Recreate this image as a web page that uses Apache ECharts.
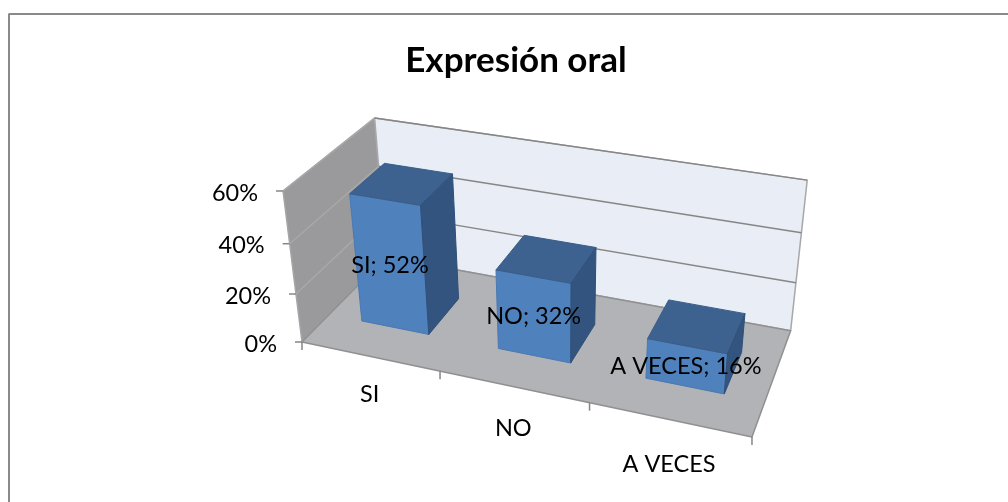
<!DOCTYPE html>
<html>
<head>
<meta charset="utf-8">
<style>html,body{margin:0;padding:0;background:#fff}#c{width:1008px;height:502px}</style>
<script src="https://cdn.jsdelivr.net/npm/echarts@6/dist/echarts.min.js"></script>
</head>
<body>
<div id="c"></div>
<script>
const titleText = 'Expresión oral';
const categories = ['SI', 'NO', 'A VECES'];
const values = [0.52, 0.32, 0.16];
const tickValues = [0, 0.2, 0.4, 0.6];
const tickLabels = ['0%', '20%', '40%', '60%'];
const percentText = v => Math.round(v * 100) + '%';

/* Oblique 3D view: homogeneous image of the origin and of the three unit axes */
const O = [302, 342, 1];
const Ux = [363.5, 44.7, -0.115];
const Uy = [-38.2, -164, -0.068];
const Uz = [131.4, -53.4, 0.1229];
const project = (u, v, w) => {
  const p = [0, 1, 2].map(k => O[k] + u * Ux[k] + v * Uy[k] + w * Uz[k]);
  return [p[0] / p[2], p[1] / p[2]];
};
const FONT = 'Lato, Carlito, sans-serif';
const LINE = '#868686';
const BAR_FRONT_Z = 0.3, BAR_BACK_Z = 0.7;

const unit = (params, api, cat, val) => {
  const cs = params.coordSys;
  const p = api.coord([cat, val]);
  return [(p[0] - cs.x) / cs.width, (cs.y + cs.height - p[1]) / cs.height];
};
const poly = (points, fill, stroke, lw) => ({
  type: 'polygon', shape: { points },
  style: { fill, stroke: stroke || fill, lineWidth: lw || 1, lineJoin: 'round' }, silent: true
});
const line = (a, b, color) => ({
  type: 'line', shape: { x1: a[0], y1: a[1], x2: b[0], y2: b[1] },
  style: { stroke: color || LINE, lineWidth: 1.5 }, silent: true
});
const text = (str, x, y, align) => ({
  type: 'text', x, y, silent: true, z2: 50,
  style: { text: str, fill: '#000', fontFamily: FONT, fontSize: 23.5, align: align || 'center', verticalAlign: 'middle' }
});

function renderWalls() {
  return {
    type: 'group', children: [
      poly([project(0, 0, 0), project(0, 1, 0), project(0, 1, 1), project(0, 0, 1)], '#9a9a9c', '#a6a6a8', 1.5),
      poly([project(0, 0, 1), project(0, 1, 1), project(1, 1, 1), project(1, 0, 1)], '#e8edf6', '#a8a8a8', 1.5),
      poly([project(0, 0, 0), project(1, 0, 0), project(1, 0, 1), project(0, 0, 1)], '#b2b3b6', '#909090', 1.5)
    ]
  };
}
function renderValueTick(params, api) {
  const v = unit(params, api, 0, api.value(1))[1];
  const front = project(0, v, 0), corner = project(0, v, 1), back = project(1, v, 1);
  const kids = [
    line([front[0] - 7, front[1]], front),
    text(tickLabels[params.dataIndex], front[0] - 25, front[1] + 2, 'right')
  ];
  if (v > 0) kids.push(line(front, corner, '#a8a8a8'), line(corner, back));
  return { type: 'group', children: kids };
}
function renderCategory(params, api) {
  const i = api.value(0);
  const half = api.size([1, 0])[0] / 2 / params.coordSys.width;
  const u = unit(params, api, i, 0)[0];
  const tick = t => { const p = project(t, 0, 0); return line(p, [p[0], p[1] + 8]); };
  const kids = [tick(u - half)];
  if (i === categories.length - 1) kids.push(tick(u + half));
  const c = project(u, 0, 0);
  kids.push(text(categories[i], c[0], c[1] + 38 + 10.5 * (u - 1 / 6)));
  return { type: 'group', children: kids };
}
function renderBar(params, api) {
  const i = api.value(0);
  const half = api.size([1, 0])[0] / 4 / params.coordSys.width;
  const [u, v] = unit(params, api, i, api.value(1));
  const a = u - half, b = u + half, f = BAR_FRONT_Z, k = BAR_BACK_Z;
  return {
    type: 'group', children: [
      poly([project(a, 0, f), project(b, 0, f), project(b, v, f), project(a, v, f)], '#4f81bd', '#4a79b2'),
      poly([project(a, v, f), project(b, v, f), project(b, v, k), project(a, v, k)], '#3d628f', '#3a5e8a'),
      poly([project(b, 0, f), project(b, 0, k), project(b, v, k), project(b, v, f)], '#32547e', '#30507a')
    ]
  };
}
function renderLabel(params, api) {
  const i = api.value(0);
  const [u, v] = unit(params, api, i, api.value(1));
  const p = project(u, v / 2, BAR_FRONT_Z);
  return text(categories[i] + '; ' + percentText(api.value(1)), p[0], p[1]);
}

const chart = echarts.init(document.getElementById('c'), null, { renderer: 'canvas' });
const base = { type: 'custom', animation: false, silent: true, coordinateSystem: 'cartesian2d', encode: { x: 0, y: 1 } };
const barData = values.map((v, i) => [i, v]);
chart.setOption({
  backgroundColor: '#fff',
  animation: false,
  title: {
    text: titleText, left: 511, top: 38, textAlign: 'center',
    textStyle: { fontFamily: FONT, fontWeight: 'bold', fontSize: 35, color: '#000' }
  },
  grid: { left: 302, top: 191, width: 450, height: 151 },
  xAxis: { type: 'category', data: categories, show: false },
  yAxis: { type: 'value', min: 0, max: 0.6, interval: 0.2, show: false },
  graphic: [
    { type: 'line', silent: true, shape: { x1: 8.5, y1: 14, x2: 1008, y2: 14 }, style: { stroke: '#8a8a8a', lineWidth: 2 } },
    { type: 'line', silent: true, shape: { x1: 9, y1: 14, x2: 9, y2: 502 }, style: { stroke: '#8a8a8a', lineWidth: 2 } }
  ],
  series: [
    { ...base, name: 'walls', z: 1, renderItem: renderWalls, data: [[0, 0]] },
    { ...base, name: 'valueAxis', z: 2, renderItem: renderValueTick, data: tickValues.map(v => [0, v]) },
    { ...base, name: 'categoryAxis', z: 2, renderItem: renderCategory, data: categories.map((c, i) => [i, 0]) },
    { ...base, name: 'bars', z: 3, renderItem: renderBar, data: barData },
    { ...base, name: 'labels', z: 4, renderItem: renderLabel, data: barData }
  ]
});
</script>
</body>
</html>
